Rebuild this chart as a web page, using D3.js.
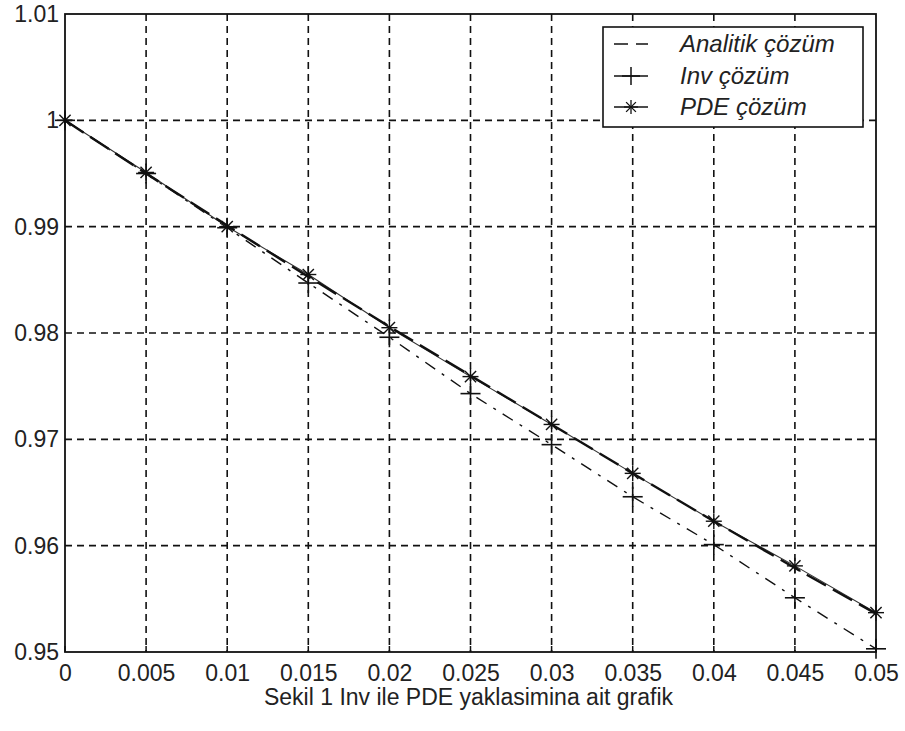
<!DOCTYPE html>
<html>
<head>
<meta charset="utf-8">
<script src="https://cdn.jsdelivr.net/npm/d3@7"></script>
<style>
  body { margin: 0; background: #fff; }
  svg { display: block; }
  text { font-family: "Liberation Sans", Arial, sans-serif; fill: #222; }
</style>
</head>
<body>
<svg id="chart" width="905" height="731"></svg>
<script>
// data
const xValues = [0, 0.005, 0.01, 0.015, 0.02, 0.025, 0.03, 0.035, 0.04, 0.045, 0.05];
const analitik = [1.0, 0.9950, 0.9901, 0.9853, 0.9806, 0.9760, 0.9714, 0.9668, 0.9623, 0.9579, 0.9536];
const inv = [1.0, 0.9950, 0.9899, 0.9847, 0.9796, 0.9743, 0.9695, 0.9646, 0.9601, 0.9551, 0.9503];
const pde = [1.0, 0.9951, 0.9900, 0.9855, 0.9805, 0.9759, 0.9714, 0.9668, 0.9623, 0.9581, 0.9537];
const xTicks = [0, 0.005, 0.01, 0.015, 0.02, 0.025, 0.03, 0.035, 0.04, 0.045, 0.05];
const yTicks = [0.95, 0.96, 0.97, 0.98, 0.99, 1, 1.01];
const legendLabels = ["Analitik çözüm", "Inv çözüm", "PDE çözüm"];
const caption = "Sekil 1 Inv ile PDE yaklasimina ait grafik";

const layout = { left: 65, right: 876, top: 14, bottom: 652 };

const svg = d3.select("#chart");

const xScale = d3.scaleLinear().domain([0, 0.05]).range([layout.left, layout.right]);
const yScale = d3.scaleLinear().domain([0.95, 1.01]).range([layout.bottom, layout.top]);

// grid lines
const grid = svg.append("g");
grid.selectAll(".vgrid")
  .data(xTicks.slice(1, -1))
  .join("line")
  .attr("x1", d => xScale(d)).attr("x2", d => xScale(d))
  .attr("y1", layout.top).attr("y2", layout.bottom)
  .attr("stroke", "#111").attr("stroke-width", 1.6)
  .attr("stroke-dasharray", "7,5");
grid.selectAll(".hgrid")
  .data(yTicks.slice(1, -1))
  .join("line")
  .attr("x1", layout.left).attr("x2", layout.right)
  .attr("y1", d => yScale(d)).attr("y2", d => yScale(d))
  .attr("stroke", "#111").attr("stroke-width", 1.6)
  .attr("stroke-dasharray", "7,5");

// axes
const xAxis = d3.axisBottom(xScale).tickValues(xTicks).tickSize(0).tickPadding(13)
  .tickFormat(d => d === 0 ? "0" : String(+d.toFixed(3)));
const yAxis = d3.axisLeft(yScale).tickValues(yTicks).tickSize(0).tickPadding(6)
  .tickFormat(d => String(+d.toFixed(2)));

svg.append("g")
  .attr("transform", `translate(0, ${layout.bottom})`)
  .call(xAxis)
  .call(g => g.select(".domain").remove())
  .selectAll("text").attr("font-size", 23).attr("fill", "#333")
  .style("font-family", "'Liberation Sans', Arial, sans-serif");

svg.append("g")
  .attr("transform", `translate(${layout.left}, 0)`)
  .call(yAxis)
  .call(g => g.select(".domain").remove())
  .selectAll("text").attr("font-size", 23).attr("fill", "#333")
  .style("font-family", "'Liberation Sans', Arial, sans-serif");

// small inward ticks
svg.append("g").selectAll("line")
  .data(xTicks)
  .join("line")
  .attr("x1", d => xScale(d)).attr("x2", d => xScale(d))
  .attr("y1", layout.bottom).attr("y2", layout.bottom - 6)
  .attr("stroke", "#111").attr("stroke-width", 1.5);

// frame
svg.append("rect")
  .attr("x", layout.left).attr("y", layout.top)
  .attr("width", layout.right - layout.left)
  .attr("height", layout.bottom - layout.top)
  .attr("fill", "none").attr("stroke", "#111").attr("stroke-width", 1.8);

const line = d3.line().x((d, i) => xScale(xValues[i])).y(d => yScale(d));

// Inv line (dash dot)
svg.append("path").datum(inv)
  .attr("d", line).attr("fill", "none")
  .attr("stroke", "#111").attr("stroke-width", 1.4)
  .attr("stroke-dasharray", "12,8,3,8");

// PDE line
svg.append("path").datum(pde)
  .attr("d", line).attr("fill", "none")
  .attr("stroke", "#333").attr("stroke-width", 1.1);

// Analitik line (dashed)
svg.append("path").datum(analitik)
  .attr("d", line).attr("fill", "none")
  .attr("stroke", "#111").attr("stroke-width", 2.4)
  .attr("stroke-dasharray", "22,8");

function plusMark(g, x, y, r) {
  g.append("line").attr("x1", x - r).attr("x2", x + r).attr("y1", y).attr("y2", y);
  g.append("line").attr("x1", x).attr("x2", x).attr("y1", y - r).attr("y2", y + r);
}
function starMark(g, x, y, r) {
  plusMark(g, x, y, r);
  const k = r * 0.7;
  g.append("line").attr("x1", x - k).attr("x2", x + k).attr("y1", y - k).attr("y2", y + k);
  g.append("line").attr("x1", x - k).attr("x2", x + k).attr("y1", y + k).attr("y2", y - k);
}

const invMarks = svg.append("g").attr("stroke", "#111").attr("stroke-width", 1.6);
inv.forEach((v, i) => plusMark(invMarks, xScale(xValues[i]), yScale(v), 10));

const pdeMarks = svg.append("g").attr("stroke", "#111").attr("stroke-width", 1.4);
pde.forEach((v, i) => starMark(pdeMarks, xScale(xValues[i]), yScale(v), 8));

// legend
const legend = svg.append("g");
legend.append("rect")
  .attr("x", 603).attr("y", 27).attr("width", 260).attr("height", 100)
  .attr("fill", "#fff").attr("stroke", "#111").attr("stroke-width", 1.6);

const rowY = [44, 76, 107];
legendLabels.forEach((lab, i) => {
  const y = rowY[i];
  const ln = legend.append("line")
    .attr("x1", 614).attr("x2", 648).attr("y1", y).attr("y2", y)
    .attr("stroke", "#111").attr("stroke-width", 1.5);
  if (i === 0) ln.attr("stroke-dasharray", "14,8");
  if (i === 1) plusMark(legend.append("g").attr("stroke", "#111").attr("stroke-width", 1.5), 631, y, 9);
  if (i === 2) starMark(legend.append("g").attr("stroke", "#111").attr("stroke-width", 1.3), 631, y, 7);
  legend.append("text")
    .attr("x", 680).attr("y", y + 8)
    .attr("font-size", 24).attr("font-style", "italic").attr("fill", "#333")
    .text(lab);
});

// caption
svg.append("text")
  .attr("x", (layout.left + layout.right) / 2 - 2)
  .attr("y", 705)
  .attr("text-anchor", "middle")
  .attr("font-size", 23).attr("fill", "#333")
  .text(caption);
</script>
</body>
</html>
